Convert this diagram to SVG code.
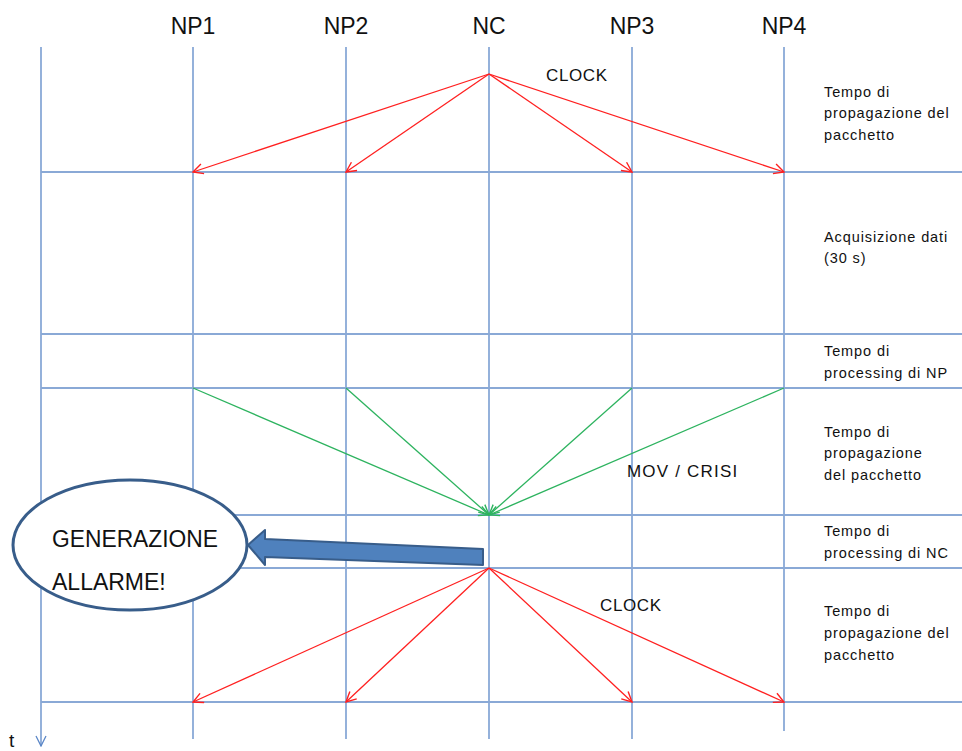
<svg xmlns="http://www.w3.org/2000/svg" width="962" height="751" viewBox="0 0 962 751">
<style>
.v{stroke:#5B87C7;stroke-width:1.3;fill:none}
.h{stroke:#8AA9D6;stroke-width:2;fill:none}
.r{stroke:#FF2020;stroke-width:1.3;fill:none;marker-end:url(#ar)}
.g{stroke:#2DB35F;stroke-width:1.3;fill:none;marker-end:url(#ag)}
.hd{font-family:"Liberation Sans",Arial,sans-serif;font-size:23px;fill:#111;text-anchor:middle}
.lb{font-family:"Liberation Sans",Arial,sans-serif;font-size:14.5px;letter-spacing:0.9px;fill:#111}
.md{font-family:"Liberation Sans",Arial,sans-serif;font-size:17px;letter-spacing:0.6px;fill:#111}
.big{font-family:"Liberation Sans",Arial,sans-serif;font-size:23px;fill:#111}
</style>
<defs>
<marker id="ar" viewBox="0 0 12 12" refX="11" refY="6" markerWidth="12" markerHeight="12" markerUnits="userSpaceOnUse" orient="auto">
<path d="M1,1 L11,6 L1,11" fill="none" stroke="#FF2020" stroke-width="1.4"/>
</marker>
<marker id="ag" viewBox="0 0 12 12" refX="11" refY="6" markerWidth="12" markerHeight="12" markerUnits="userSpaceOnUse" orient="auto">
<path d="M1,1 L11,6 L1,11" fill="none" stroke="#2DB35F" stroke-width="1.4"/>
</marker>
<marker id="at" viewBox="0 0 12 12" refX="11" refY="6" markerWidth="12" markerHeight="12" markerUnits="userSpaceOnUse" orient="auto">
<path d="M1,1 L11,6 L1,11" fill="none" stroke="#5B87C7" stroke-width="1.3"/>
</marker>
</defs>
<rect width="962" height="751" fill="#fff"/>
<g id="grid">
<line class="v" x1="41" y1="47" x2="41" y2="746" marker-end="url(#at)"/>
<line class="v" x1="193" y1="47" x2="193" y2="739"/>
<line class="v" x1="346" y1="47" x2="346" y2="739"/>
<line class="v" x1="489" y1="47" x2="489" y2="739"/>
<line class="v" x1="632" y1="47" x2="632" y2="739"/>
<line class="v" x1="784" y1="47" x2="784" y2="731"/>
<line class="h" x1="41" y1="172" x2="962" y2="172"/>
<line class="h" x1="41" y1="334" x2="962" y2="334"/>
<line class="h" x1="41" y1="388" x2="962" y2="388"/>
<line class="h" x1="41" y1="515" x2="962" y2="515"/>
<line class="h" x1="41" y1="568" x2="962" y2="568"/>
<line class="h" x1="41" y1="702" x2="962" y2="702"/>
</g>
<g id="headers">
<text class="hd" x="193" y="34">NP1</text>
<text class="hd" x="346" y="34">NP2</text>
<text class="hd" x="489" y="34">NC</text>
<text class="hd" x="632" y="34">NP3</text>
<text class="hd" x="784" y="34">NP4</text>
<text x="9" y="747" style="font-family:'Liberation Sans',Arial,sans-serif;font-size:19px;fill:#111">t</text>
</g>
<g id="connectors">
<line class="r" x1="489" y1="74" x2="193" y2="172"/>
<line class="r" x1="489" y1="74" x2="346" y2="172"/>
<line class="r" x1="489" y1="74" x2="632" y2="172"/>
<line class="r" x1="489" y1="74" x2="784" y2="172"/>
<line class="g" x1="193" y1="388" x2="489" y2="515"/>
<line class="g" x1="346" y1="388" x2="489" y2="515"/>
<line class="g" x1="632" y1="388" x2="489" y2="515"/>
<line class="g" x1="784" y1="388" x2="489" y2="515"/>
<line class="r" x1="489" y1="568" x2="193" y2="702"/>
<line class="r" x1="489" y1="568" x2="346" y2="702"/>
<line class="r" x1="489" y1="568" x2="632" y2="702"/>
<line class="r" x1="489" y1="568" x2="784" y2="702"/>
</g>
<g id="msg-labels">
<text class="md" x="546" y="81">CLOCK</text>
<text class="md" x="627" y="477" style="letter-spacing:1.2px">MOV / CRISI</text>
<text class="md" x="600" y="611">CLOCK</text>
</g>
<g id="phase-labels">
<text class="lb" x="824" y="97">Tempo di</text>
<text class="lb" x="824" y="118">propagazione del</text>
<text class="lb" x="824" y="140">pacchetto</text>
<text class="lb" x="824" y="242">Acquisizione dati</text>
<text class="lb" x="824" y="263">(30 s)</text>
<text class="lb" x="824" y="356">Tempo di</text>
<text class="lb" x="824" y="378">processing di NP</text>
<text class="lb" x="824" y="437">Tempo di</text>
<text class="lb" x="824" y="458">propagazione</text>
<text class="lb" x="824" y="480">del pacchetto</text>
<text class="lb" x="824" y="536">Tempo di</text>
<text class="lb" x="824" y="558">processing di NC</text>
<text class="lb" x="824" y="616">Tempo di</text>
<text class="lb" x="824" y="638">propagazione del</text>
<text class="lb" x="824" y="660">pacchetto</text>
</g>
<g id="alarm-arrow">
<polygon points="248,545 265,530 265,539 483,549 483,565 265,557 265,565" fill="#4F81BD" stroke="#385D8A" stroke-width="2" stroke-linejoin="round"/>
</g>
<g id="alarm">
<ellipse cx="130" cy="545" rx="117" ry="65" fill="#fff" stroke="#385D8A" stroke-width="3"/>
<text class="big" x="52" y="547" textLength="166" lengthAdjust="spacingAndGlyphs">GENERAZIONE</text>
<text class="big" x="52" y="590">ALLARME!</text>
</g>
</svg>
